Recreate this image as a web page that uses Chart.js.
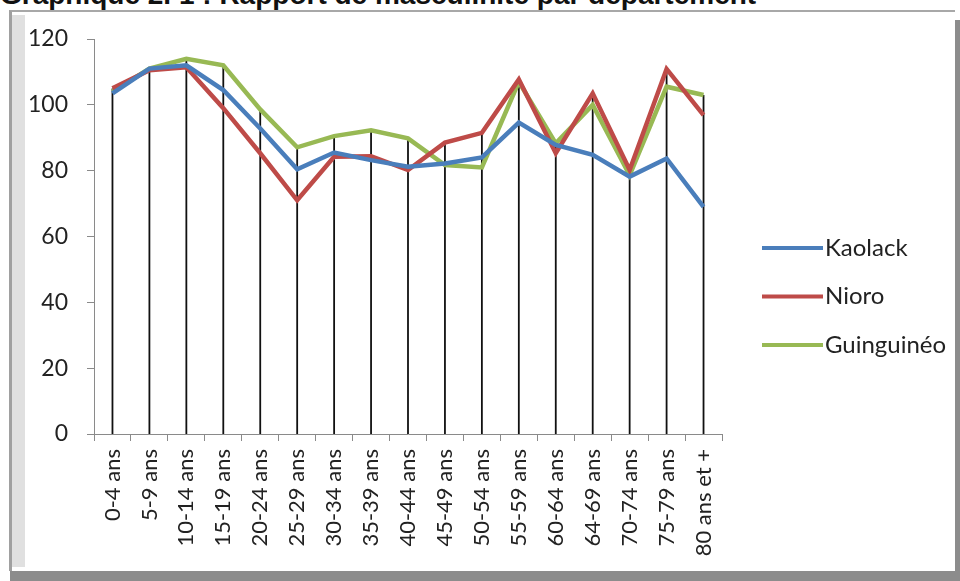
<!DOCTYPE html>
<html>
<head>
<meta charset="utf-8">
<script src="https://cdn.jsdelivr.net/npm/chart.js@4.4.1/dist/chart.umd.min.js"></script>
<style>
  html, body { margin: 0; padding: 0; background: #fff; }
  #wrap { position: relative; width: 960px; height: 581px; overflow: hidden; }
  .frame { position: absolute; left: 9px; top: 10px; width: 946px; height: 561px; border-top: 2px solid #a8a8a8; border-left: 3px solid #a0a0a0; background: #fff; box-sizing: border-box; }
  .bevel { position: absolute; left: 12px; top: 15px; width: 13px; height: 552px; background: #e0e0e0; }
  .rband { position: absolute; left: 955px; top: 20px; width: 5px; height: 561px; background: #8c8c8c; }
  .bband { position: absolute; left: 10px; top: 571px; width: 950px; height: 10px; background: #8c8c8c; }
  #title { position: absolute; left: 0px; top: -19px; font: bold 28px "Liberation Sans", Arial, sans-serif; line-height: 28px; color: #111; white-space: nowrap; }
  canvas { position: absolute; left: 0; top: 0; }
</style>
</head>
<body>
<div id="wrap">
  <div class="frame"></div>
  <div class="bevel"></div>
  <div class="rband"></div>
  <div class="bband"></div>
  <div id="title">Graphique 2. 1 : Rapport de masculinité par département</div>
  <canvas id="c" width="960" height="581"></canvas>
</div>
<script>
const categories = ["0-4 ans","5-9 ans","10-14 ans","15-19 ans","20-24 ans","25-29 ans","30-34 ans","35-39 ans","40-44 ans","45-49 ans","50-54 ans","55-59 ans","60-64 ans","64-69 ans","70-74 ans","75-79 ans","80 ans et +"];
const kaolack    = [103.5, 111, 112, 104.5, 92.8, 80.4, 85.5, 83.2, 81.2, 82.2, 84, 94.6, 87.8, 84.8, 78.2, 83.7, 69];
const nioro      = [105, 110.5, 111.4, 99, 85.3, 71, 84.2, 84.4, 80.2, 88.5, 91.5, 107.7, 85.3, 103.5, 80.2, 110.9, 96.9];
const guinguineo = [104, 111, 114, 112, 98.6, 87.1, 90.5, 92.3, 89.8, 81.7, 81, 107, 88.3, 100, 78.6, 105.5, 103];
const yTicks = [0, 20, 40, 60, 80, 100, 120];
const seriesNames = ["Kaolack", "Nioro", "Guinguinéo"];
const seriesColors = ["#4a7ebb", "#be4b48", "#98b954"];

const dropLines = {
  id: 'dropLines',
  beforeDatasetsDraw(chart) {
    const ctx = chart.ctx, x = chart.scales.x, y = chart.scales.y;
    ctx.save();
    ctx.strokeStyle = '#111';
    ctx.lineWidth = 1.8;
    categories.forEach((c, i) => {
      const top = Math.max(...chart.data.datasets.map(d => d.data[i]));
      const px = x.getPixelForValue(i);
      ctx.beginPath();
      ctx.moveTo(px, y.getPixelForValue(top));
      ctx.lineTo(px, y.getPixelForValue(0));
      ctx.stroke();
    });
    ctx.restore();
  }
};

const sideLegend = {
  id: 'sideLegend',
  afterDraw(chart) {
    const ctx = chart.ctx;
    ctx.save();
    ctx.font = '24px Lato, "Open Sans", sans-serif';
    ctx.textBaseline = 'middle';
    chart.data.datasets.forEach((d, i) => {
      const yy = 248 + i * 48.5;
      ctx.strokeStyle = d.borderColor;
      ctx.lineWidth = 4;
      ctx.beginPath();
      ctx.moveTo(762, yy);
      ctx.lineTo(823, yy);
      ctx.stroke();
      ctx.fillStyle = '#222';
      ctx.fillText(d.label, 825, yy);
    });
    ctx.restore();
  }
};

new Chart(document.getElementById('c'), {
  type: 'line',
  data: {
    labels: categories,
    datasets: [kaolack, nioro, guinguineo].map((v, i) => ({
      label: seriesNames[i],
      data: v,
      borderColor: seriesColors[i],
      backgroundColor: seriesColors[i],
      borderWidth: 4.5,
      pointRadius: 0,
      tension: 0,
      fill: false
    }))
  },
  options: {
    responsive: false,
    animation: false,
    devicePixelRatio: 1,
    layout: { padding: { left: 0, right: 238, top: 39, bottom: 0 } },
    plugins: { legend: { display: false }, tooltip: { enabled: false } },
    scales: {
      x: {
        offset: true,
        grid: { display: true, drawOnChartArea: false, drawTicks: true, tickLength: 7, color: '#8a8a8a', offset: true },
        border: { display: true, color: '#8a8a8a', width: 1 },
        ticks: { autoSkip: false, maxRotation: 90, minRotation: 90, padding: 8, color: '#222', font: { family: 'Lato, "Open Sans", sans-serif', size: 22 } },
        afterFit(s) { s.height = 147; }
      },
      y: {
        min: 0, max: 120,
        afterBuildTicks(s) { s.ticks = yTicks.map(v => ({ value: v })); },
        grid: { display: true, drawOnChartArea: false, drawTicks: true, tickLength: 7, color: '#8a8a8a' },
        border: { display: true, color: '#8a8a8a', width: 1 },
        ticks: { padding: 19, color: '#222', font: { family: 'Lato, "Open Sans", sans-serif', size: 23 } },
        afterFit(s) { s.width = 94; }
      }
    }
  },
  plugins: [dropLines, sideLegend]
});
</script>
</body>
</html>
